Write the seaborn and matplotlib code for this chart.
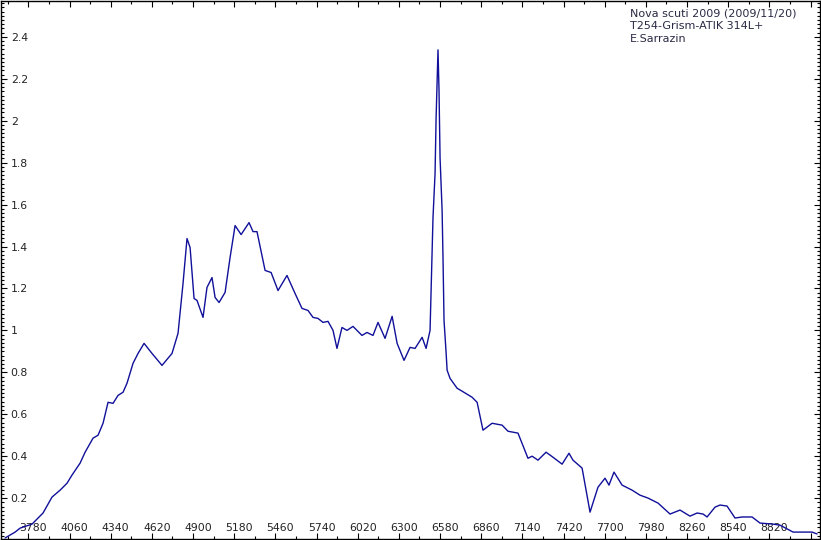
import numpy as np
import pandas as pd
import matplotlib
matplotlib.use("Agg")
import matplotlib.pyplot as plt
import matplotlib.transforms as mtransforms
from matplotlib.ticker import FixedLocator, MultipleLocator
import seaborn as sns

# ---- data (wavelength in Angstrom, relative flux) ----
wavelength = [3622, 3690, 3724, 3805, 3880, 3941, 3996, 4043, 4077, 4132,
              4166, 4220, 4254, 4288, 4322, 4356, 4390, 4424, 4451, 4492,
              4526, 4567, 4621, 4689, 4757, 4798, 4832, 4859, 4880, 4907, 4927,
              4968, 4995, 5029, 5050, 5077, 5118, 5152, 5186, 5227, 5281,
              5308, 5335, 5390, 5431, 5478, 5539, 5594, 5641, 5682, 5716,
              5750, 5784, 5818, 5852, 5879, 5913, 5947, 5988, 6049, 6083,
              6124, 6158, 6206, 6254, 6288, 6335, 6376, 6410, 6458, 6485,
              6512, 6532, 6546, 6553, 6560, 6566, 6573, 6580, 6594, 6600,
              6607, 6621, 6628, 6648, 6696, 6730, 6798, 6832, 6872, 6934,
              7002, 7042, 7110, 7178, 7206, 7246, 7301, 7348, 7410, 7457,
              7484, 7546, 7600, 7654, 7702, 7729, 7763, 7818, 7886, 7940,
              7995, 8063, 8144, 8212, 8280, 8328, 8369, 8396, 8450, 8484,
              8532, 8586, 8634, 8702, 8756, 8845, 8892, 8981, 9049, 9110,
              9144]
flux = [0.010, 0.038, 0.057, 0.076, 0.129, 0.205, 0.238, 0.271, 0.310, 0.367,
        0.419, 0.486, 0.500, 0.557, 0.657, 0.652, 0.690, 0.705, 0.748, 0.843,
        0.890, 0.938, 0.890, 0.833, 0.890, 0.986, 1.224, 1.438, 1.395, 1.152, 1.143,
        1.062, 1.205, 1.252, 1.157, 1.133, 1.181, 1.348, 1.500, 1.457, 1.514,
        1.471, 1.471, 1.286, 1.276, 1.190, 1.262, 1.176, 1.105, 1.095, 1.062,
        1.057, 1.038, 1.043, 1.000, 0.914, 1.014, 1.000, 1.019, 0.976, 0.990,
        0.976, 1.038, 0.962, 1.067, 0.938, 0.857, 0.919, 0.914, 0.967, 0.914,
        1.000, 1.538, 1.748, 2.010, 2.190, 2.338, 2.143, 1.824, 1.571, 1.348,
        1.048, 0.895, 0.810, 0.771, 0.724, 0.710, 0.681, 0.657, 0.524, 0.557,
        0.548, 0.519, 0.510, 0.390, 0.400, 0.381, 0.419, 0.395, 0.362, 0.414,
        0.381, 0.343, 0.133, 0.252, 0.295, 0.262, 0.324, 0.262, 0.238, 0.214,
        0.200, 0.176, 0.124, 0.143, 0.114, 0.129, 0.124, 0.110, 0.157, 0.167,
        0.162, 0.105, 0.110, 0.110, 0.081, 0.076, 0.071, 0.038, 0.038, 0.038,
        0.029]

x_ticks = [3780, 4060, 4340, 4620, 4900, 5180, 5460, 5740, 6020, 6300,
           6580, 6860, 7140, 7420, 7700, 7980, 8260, 8540, 8820, 9100]
x_tick_labels = ["3780", "4060", "4340", "4620", "4900", "5180", "5460",
                 "5740", "6020", "6300", "6580", "6860", "7140", "7420",
                 "7700", "7980", "8260", "8540", "8820", ""]
y_ticks = [0.2, 0.4, 0.6, 0.8, 1.0, 1.2, 1.4, 1.6, 1.8, 2.0, 2.2, 2.4]
y_tick_labels = ["0.2", "0.4", "0.6", "0.8", "1", "1.2", "1.4", "1.6",
                 "1.8", "2", "2.2", "2.4"]
caption_lines = ["Nova scuti 2009 (2009/11/20)", "T254-Grism-ATIK 314L+",
                 "E.Sarrazin"]

df = pd.DataFrame({"wavelength": wavelength, "flux": flux})

sns.set_theme(style="white")
plt.rcParams["font.family"] = ["DejaVu Sans"]

fig = plt.figure(figsize=(8.21, 5.40), dpi=100)
fig.patch.set_facecolor("white")
ax = fig.add_axes([1 / 821, 1 / 540, 819 / 821, 538 / 540])
ax.set_facecolor("white")

sns.lineplot(data=df, x="wavelength", y="flux", sort=False, estimator=None,
             color="#10109a", linewidth=1.0, ax=ax)

ax.set_xlim(3594, 9164)
ax.set_ylim(0.005, 2.571)
ax.set_xlabel("")
ax.set_ylabel("")

ax.xaxis.set_major_locator(FixedLocator(x_ticks))
ax.set_xticklabels(x_tick_labels)
ax.xaxis.set_minor_locator(MultipleLocator(140))
ax.yaxis.set_major_locator(FixedLocator(y_ticks))
ax.set_yticklabels(y_tick_labels)
ax.yaxis.set_minor_locator(MultipleLocator(0.02))

for s in ax.spines.values():
    s.set_visible(True)
    s.set_color("black")
    s.set_linewidth(1.0)

ax.tick_params(which="both", direction="in", top=True, right=True,
               bottom=True, left=True, color="black", width=0.8)
ax.tick_params(which="major", length=4.5)
ax.tick_params(which="minor", length=2.2)
ax.tick_params(axis="x", which="major", pad=-4.0, labelsize=7.8,
               labelcolor="#222222")
ax.tick_params(axis="y", which="major", pad=-7.0, labelsize=7.8,
               labelcolor="#222222")

shift = mtransforms.ScaledTranslation(5 / 100, 0, fig.dpi_scale_trans)
for lab in ax.get_xticklabels():
    lab.set_verticalalignment("bottom")
    lab.set_transform(lab.get_transform() + shift)
for lab in ax.get_yticklabels():
    lab.set_horizontalalignment("left")

ax.text(0.768, 0.986, "\n".join(caption_lines), transform=ax.transAxes,
        ha="left", va="top", fontsize=8, color="#2a2a45", linespacing=1.33)

fig.savefig("out.png", dpi=100, facecolor="white")
